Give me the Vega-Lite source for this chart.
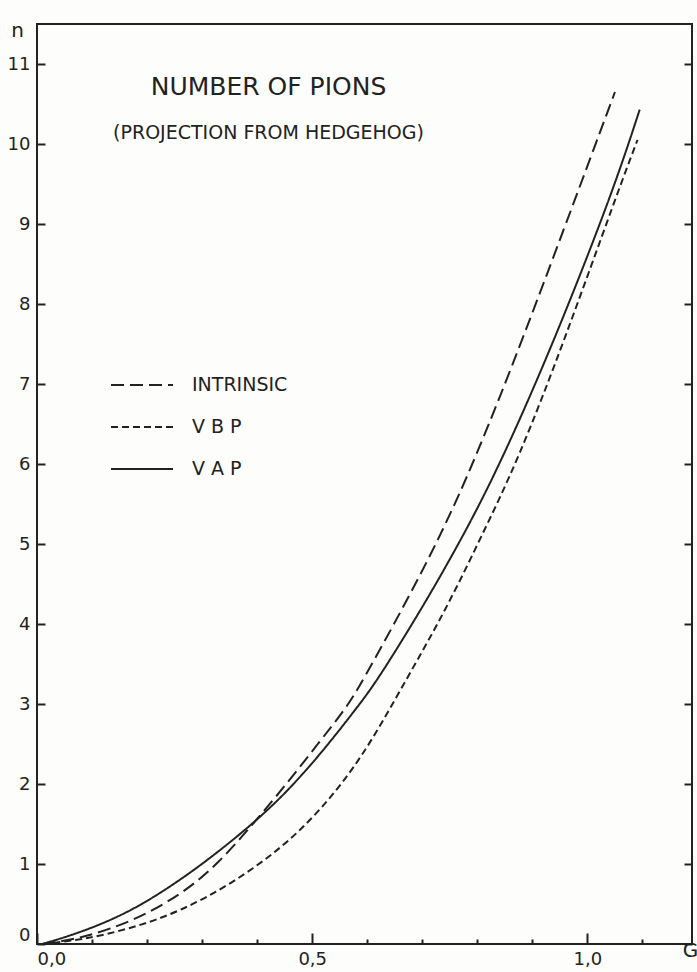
{
  "$schema": "https://vega.github.io/schema/vega-lite/v6.json",
  "width": 655,
  "height": 920,
  "autosize": {"type": "none"},
  "padding": {"left": 37, "top": 24, "right": 5, "bottom": 28},
  "background": "#fdfdfb",
  "title": {
    "text": "NUMBER OF PIONS",
    "subtitle": "(PROJECTION FROM HEDGEHOG)",
    "anchor": "middle",
    "dx": -96,
    "dy": 127,
    "fontSize": 25,
    "fontWeight": "normal",
    "font": "DejaVu Sans",
    "color": "#222",
    "subtitleFont": "DejaVu Sans",
    "subtitleFontSize": 19,
    "subtitleColor": "#222",
    "subtitlePadding": 24
  },
  "data": {
    "values": [
      {"series": "INTRINSIC", "G": 0.01, "n": 0},
      {"series": "INTRINSIC", "G": 0.08, "n": 0.07},
      {"series": "INTRINSIC", "G": 0.17, "n": 0.27},
      {"series": "INTRINSIC", "G": 0.261, "n": 0.61},
      {"series": "INTRINSIC", "G": 0.329, "n": 1.0},
      {"series": "INTRINSIC", "G": 0.395, "n": 1.52},
      {"series": "INTRINSIC", "G": 0.457, "n": 2.03},
      {"series": "INTRINSIC", "G": 0.51, "n": 2.5},
      {"series": "INTRINSIC", "G": 0.564, "n": 2.97},
      {"series": "INTRINSIC", "G": 0.59, "n": 3.27},
      {"series": "INTRINSIC", "G": 0.665, "n": 4.2},
      {"series": "INTRINSIC", "G": 0.735, "n": 5.13},
      {"series": "INTRINSIC", "G": 0.796, "n": 6.06},
      {"series": "INTRINSIC", "G": 0.882, "n": 7.55},
      {"series": "INTRINSIC", "G": 0.983, "n": 9.41},
      {"series": "INTRINSIC", "G": 1.05, "n": 10.65},
      {"series": "V B P", "G": 0.01, "n": 0},
      {"series": "V B P", "G": 0.08, "n": 0.05},
      {"series": "V B P", "G": 0.17, "n": 0.19},
      {"series": "V B P", "G": 0.261, "n": 0.41},
      {"series": "V B P", "G": 0.353, "n": 0.75},
      {"series": "V B P", "G": 0.445, "n": 1.2},
      {"series": "V B P", "G": 0.518, "n": 1.69},
      {"series": "V B P", "G": 0.592, "n": 2.34},
      {"series": "V B P", "G": 0.668, "n": 3.27},
      {"series": "V B P", "G": 0.744, "n": 4.19},
      {"series": "V B P", "G": 0.809, "n": 5.12},
      {"series": "V B P", "G": 0.874, "n": 6.05},
      {"series": "V B P", "G": 0.958, "n": 7.54},
      {"series": "V B P", "G": 1.055, "n": 9.4},
      {"series": "V B P", "G": 1.091, "n": 10.05},
      {"series": "V A P", "G": 0.01, "n": 0},
      {"series": "V A P", "G": 0.078, "n": 0.14},
      {"series": "V A P", "G": 0.17, "n": 0.4},
      {"series": "V A P", "G": 0.261, "n": 0.8},
      {"series": "V A P", "G": 0.329, "n": 1.15},
      {"series": "V A P", "G": 0.395, "n": 1.52},
      {"series": "V A P", "G": 0.457, "n": 1.92},
      {"series": "V A P", "G": 0.523, "n": 2.44},
      {"series": "V A P", "G": 0.583, "n": 2.97},
      {"series": "V A P", "G": 0.616, "n": 3.27},
      {"series": "V A P", "G": 0.7, "n": 4.2},
      {"series": "V A P", "G": 0.777, "n": 5.13},
      {"series": "V A P", "G": 0.845, "n": 6.05},
      {"series": "V A P", "G": 0.94, "n": 7.54},
      {"series": "V A P", "G": 1.046, "n": 9.4},
      {"series": "V A P", "G": 1.095, "n": 10.43}
    ]
  },
  "layer": [
    {
      "mark": {"type": "line", "interpolate": "basis", "color": "#222", "strokeWidth": 2},
      "encoding": {
        "x": {
          "field": "G",
          "type": "quantitative",
          "scale": {"domain": [0, 1.19], "nice": false, "zero": false},
          "axis": {
            "orient": "bottom",
            "offset": -11,
            "domain": false,
            "ticks": true,
            "tickColor": "#222",
            "tickOpacity": 1,
            "tickWidth": 2,
            "zindex": 2,
            "values": [0, 0.5, 1.0],
            "labelExpr": "replace(format(datum.value, '.1f'), '.', ',')",
            "tickSize": 11,
            "labelPadding": 6,
            "labelFlush": true,
            "labelFontSize": 18,
            "title": "G",
            "titleX": 653,
            "titleY": 17,
            "titleAlign": "center",
            "titleBaseline": "middle",
            "titleFontSize": 20
          }
        },
        "y": {
          "field": "n",
          "type": "quantitative",
          "scale": {"domain": [0, 11.5], "nice": false, "zero": false},
          "axis": {
            "orient": "left",
            "offset": -8,
            "domain": false,
            "ticks": true,
            "tickColor": "#222",
            "tickOpacity": 1,
            "tickWidth": 2,
            "zindex": 2,
            "values": [0, 1, 2, 3, 4, 5, 6, 7, 8, 9, 10, 11],
            "tickSize": 8,
            "labelPadding": 7,
            "labelFlush": true,
            "labelFontSize": 18,
            "title": "n",
            "titleAngle": 0,
            "titleX": -28,
            "titleY": 6,
            "titleAlign": "center",
            "titleBaseline": "middle",
            "titleFontSize": 20
          }
        },
        "strokeDash": {
          "field": "series",
          "type": "nominal",
          "scale": {"domain": ["INTRINSIC", "V B P", "V A P"], "range": [[13, 6], [7, 4], [1, 0]]},
          "legend": {
            "orient": "none",
            "legendX": 73,
            "legendY": 329,
            "title": null,
            "padding": 0,
            "symbolType": "stroke",
            "symbolSize": 3844,
            "symbolStrokeWidth": 2,
            "symbolStrokeColor": "#222",
            "rowPadding": -26,
            "labelOffset": 18,
            "labelFontSize": 19,
            "labelColor": "#222",
            "labelFont": "DejaVu Sans"
          }
        }
      }
    },
    {
      "mark": {"type": "point", "opacity": 0},
      "encoding": {
        "x": {
          "field": "G",
          "type": "quantitative",
          "axis": {
            "orient": "bottom",
            "offset": -5,
            "domain": false,
            "ticks": true,
            "tickColor": "#222",
            "tickOpacity": 1,
            "tickWidth": 2,
            "zindex": 2,
            "values": [0.1, 0.2, 0.3, 0.4, 0.6, 0.7, 0.8, 0.9, 1.1],
            "labels": false,
            "tickSize": 5,
            "title": null
          }
        },
        "y": {
          "field": "n",
          "type": "quantitative",
          "axis": {
            "orient": "right",
            "offset": -8,
            "domain": false,
            "ticks": true,
            "tickColor": "#222",
            "tickOpacity": 1,
            "tickWidth": 2,
            "zindex": 2,
            "values": [0, 1, 2, 3, 4, 5, 6, 7, 8, 9, 10, 11],
            "tickSize": 8,
            "labels": false,
            "title": null
          }
        }
      }
    }
  ],
  "resolve": {"axis": {"x": "independent", "y": "independent"}},
  "config": {
    "font": "DejaVu Sans",
    "view": {"stroke": "#222", "strokeWidth": 2},
    "axis": {
      "grid": false,
      "domainColor": "#222",
      "domainWidth": 2,
      "labelColor": "#222",
      "labelFont": "DejaVu Sans",
      "titleFont": "DejaVu Sans",
      "titleFontWeight": "normal",
      "titleColor": "#222"
    }
  }
}
